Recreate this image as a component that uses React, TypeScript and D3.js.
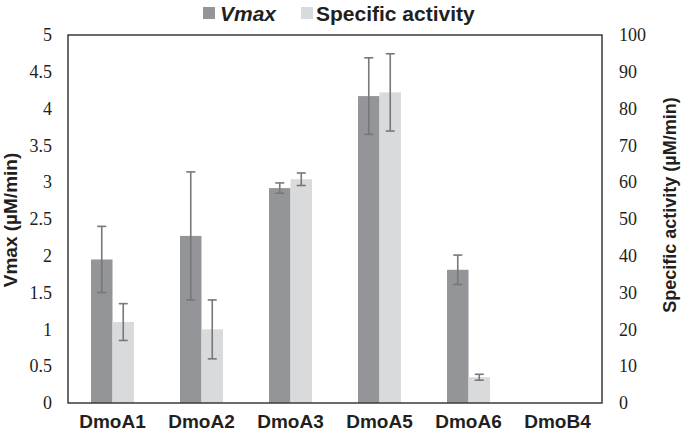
import React, { useEffect, useRef } from 'react';
import * as d3 from 'd3';

const categories = ['DmoA1', 'DmoA2', 'DmoA3', 'DmoA5', 'DmoA6', 'DmoB4'];
// Vmax (µM/min), left axis
const vmax = [1.95, 2.27, 2.92, 4.17, 1.81, null];
const vmaxErr = [0.45, 0.87, 0.07, 0.52, 0.2, null];
// Specific activity (µM/min), right axis
const specAct = [22, 20, 60.8, 84.4, 7, null];
const specErr = [5, 8, 1.7, 10.5, 0.8, null];
const leftTicks = [0, 0.5, 1, 1.5, 2, 2.5, 3, 3.5, 4, 4.5, 5];
const rightTicks = [0, 10, 20, 30, 40, 50, 60, 70, 80, 90, 100];

const DARK = '#939598';
const LIGHT = '#d9dadb';
const ERR = '#77787b';
const INK = '#231f20';
const SANS = "'Liberation Sans', Arial, sans-serif";
const SERIF = "'Liberation Serif', Tinos, 'Times New Roman', 'DejaVu Serif', serif";

const App = () => {
  const ref = useRef<SVGSVGElement>(null);

  useEffect(() => {
    const width = 685;
    const height = 437;
    const margin = { top: 35, right: 83, bottom: 34, left: 68 };
    const svg = d3.select(ref.current).attr('width', width).attr('height', height);
    svg.selectAll('*').remove();

    const x = d3.scaleBand()
      .domain(categories)
      .range([margin.left, width - margin.right])
      .paddingInner(0.517)
      .paddingOuter(0.2585);
    const x1 = d3.scaleBand().domain(['v', 's']).range([0, x.bandwidth()]);

    const yL = d3.scaleLinear().domain([0, 5]).range([height - margin.bottom, margin.top]);
    const yR = d3.scaleLinear().domain([0, 100]).range([height - margin.bottom, margin.top]);

    // bars
    const series = [
      { key: 'v', vals: vmax, errs: vmaxErr, y: yL, fill: DARK },
      { key: 's', vals: specAct, errs: specErr, y: yR, fill: LIGHT },
    ];
    series.forEach(s => {
      const g = svg.append('g');
      categories.forEach((c, i) => {
        const v = s.vals[i];
        if (v == null) return;
        g.append('rect')
          .attr('x', x(c)! + x1(s.key)!)
          .attr('y', s.y(v))
          .attr('width', x1.bandwidth())
          .attr('height', s.y(0) - s.y(v))
          .attr('fill', s.fill);
      });
    });

    // error bars
    series.forEach(s => {
      const g = svg.append('g').attr('stroke', ERR).attr('stroke-width', 1.6);
      categories.forEach((c, i) => {
        const v = s.vals[i];
        const e = s.errs[i];
        if (v == null || e == null) return;
        const cx = x(c)! + x1(s.key)! + x1.bandwidth() / 2;
        const hi = s.y(v + e);
        const lo = s.y(v - e);
        g.append('line').attr('x1', cx).attr('x2', cx).attr('y1', hi).attr('y2', lo);
        g.append('line').attr('x1', cx - 4.5).attr('x2', cx + 4.5).attr('y1', hi).attr('y2', hi);
        g.append('line').attr('x1', cx - 4.5).attr('x2', cx + 4.5).attr('y1', lo).attr('y2', lo);
      });
    });

    // frame
    svg.append('rect')
      .attr('x', margin.left)
      .attr('y', margin.top)
      .attr('width', width - margin.left - margin.right)
      .attr('height', height - margin.top - margin.bottom)
      .attr('fill', 'none')
      .attr('stroke', '#3a3a3a')
      .attr('stroke-width', 1.5);

    // left axis
    const left = svg.append('g')
      .attr('transform', `translate(${margin.left},0)`)
      .call(d3.axisLeft(yL).tickValues(leftTicks).tickSize(0).tickPadding(16).tickFormat(d => String(d)))
      .attr('font-family', SERIF)
      .attr('font-size', 18);
    left.select('.domain').remove();
    left.selectAll('text').attr('fill', INK);

    // right axis
    const right = svg.append('g')
      .attr('transform', `translate(${width - margin.right},0)`)
      .call(d3.axisRight(yR).tickValues(rightTicks).tickSize(0).tickPadding(17).tickFormat(d => String(d)))
      .attr('font-family', SERIF)
      .attr('font-size', 18);
    right.select('.domain').remove();
    right.selectAll('text').attr('fill', INK);

    // x axis labels
    const bottom = svg.append('g')
      .attr('transform', `translate(0,${height - margin.bottom})`)
      .call(d3.axisBottom(x).tickSize(0).tickPadding(12))
      .attr('font-family', SANS)
      .attr('font-weight', 'bold')
      .attr('font-size', 19);
    bottom.select('.domain').remove();
    bottom.selectAll('text').attr('fill', INK);

    // axis titles
    svg.append('text')
      .attr('transform', `translate(17,220) rotate(-90)`)
      .attr('text-anchor', 'middle')
      .style('font-family', SANS)
      .style('font-weight', 'bold')
      .style('font-size', '19px')
      .attr('fill', INK)
      .text('Vmax (µM/min)');
    svg.append('text')
      .attr('transform', `translate(676,205) rotate(-90)`)
      .attr('text-anchor', 'middle')
      .style('font-family', SANS)
      .style('font-weight', 'bold')
      .style('font-size', '18px')
      .attr('fill', INK)
      .text('Specific activity (µM/min)');

    // legend
    const legend = svg.append('g')
      .style('font-family', SANS)
      .style('font-weight', 'bold')
      .style('font-size', '21px')
      .attr('fill', INK);
    legend.append('rect').attr('x', 203).attr('y', 7).attr('width', 12).attr('height', 12).attr('fill', DARK);
    legend.append('text').attr('x', 220).attr('y', 21).style('font-style', 'italic').text('Vmax');
    legend.append('rect').attr('x', 301).attr('y', 7).attr('width', 12).attr('height', 12).attr('fill', LIGHT);
    legend.append('text').attr('x', 316).attr('y', 21).text('Specific activity');
  }, []);

  return <svg ref={ref} style={{ position: 'absolute', left: 0, top: 0, background: '#fff' }} />;
};

export default App;
